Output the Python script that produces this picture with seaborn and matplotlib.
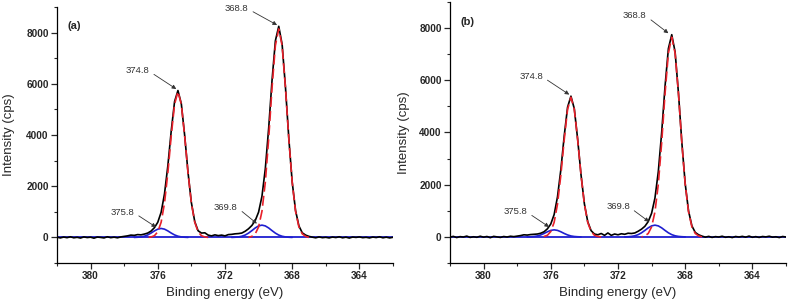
import numpy as np
import matplotlib
matplotlib.use('Agg')
import matplotlib.pyplot as plt
import seaborn as sns
from matplotlib.ticker import MultipleLocator

# binding energy grid of the measured spectra (eV), high -> low
energy = np.round(np.linspace(382, 362, 101), 1)

# measured spectra (cps)
spec_a = [10, -20, 15, -10, 25, -15, 5, -25, 20, -5, 10,
          -30, 15, 0, -20, 25, -10, 10, -15, 20, 40,
          60, 90, 80, 110, 100, 130, 170, 247, 381, 592,
          983, 1703, 2800, 4160, 5310, 5740, 5230, 3990, 2540, 1360,
          620, 260, 170, 180, 90, 60, 100, 70, 90, 60,
          110, 120, 140, 150, 170, 240, 337, 466, 658, 989,
          1605, 2681, 4266, 6138, 7685, 8250, 7550, 5870, 3860, 2170,
          1050, 450, 180, 90, 40, 10, -15, 20, -10, 5,
          -20, 15, -5, 25, -15, 10, -25, 15, 0, 20,
          -10, 5, -20, 15, -5, 25, -15, 10, -20, 5]
spec_b = [-10, 20, -25, 10, -5, 30, -20, 5, -15, 25, -10,
          15, -30, 20, 0, -20, 15, -5, 25, 10, 30,
          50, 80, 70, 90, 100, 110, 140, 197, 309, 494,
          856, 1536, 2580, 3870, 4970, 5390, 4910, 3740, 2380, 1270,
          580, 240, 110, 80, 130, 60, 150, 60, 110, 80,
          120, 100, 140, 130, 150, 216, 296, 406, 586, 904,
          1486, 2501, 3997, 5763, 7214, 7746, 7080, 5500, 3620, 2040,
          990, 420, 170, 80, 30, -10, 20, -20, 10, -5,
          25, -15, 5, -25, 15, -5, 20, -10, 30, -15,
          10, -20, 15, 0, 25, -10, 5, -25, 15, -5]

# fitted components
x_main_1 = np.round(np.linspace(376.6, 373.0, 19), 1)   # 374.8 peak
x_main_2 = np.round(np.linspace(370.6, 367.0, 19), 1)   # 368.8 peak
x_minor_1 = np.round(np.linspace(377.4, 374.2, 17), 1)  # 375.8 peak
x_minor_2 = np.round(np.linspace(371.6, 368.0, 19), 1)  # 369.8 peak

fit_a_main_1 = [0, 17, 67, 219, 593, 1340, 2525, 3967, 5205, 5700, 5205, 3967, 2525, 1340, 593, 219, 67, 17, 0]
fit_a_main_2 = [0, 41, 139, 408, 1019, 2152, 3847, 5843, 7498, 8150, 7498, 5843, 3847, 2152, 1019, 408, 139, 41, 0]
fit_a_minor_1 = [0, 7, 20, 47, 97, 170, 254, 323, 350, 323, 254, 170, 97, 47, 20, 7, 0]
fit_a_minor_2 = [0, 7, 19, 45, 92, 167, 265, 369, 449, 480, 449, 369, 265, 167, 92, 45, 19, 7, 0]

fit_b_main_1 = [0, 16, 63, 205, 556, 1257, 2370, 3724, 4885, 5350, 4885, 3724, 2370, 1257, 556, 205, 63, 16, 0]
fit_b_main_2 = [0, 38, 130, 383, 956, 2020, 3611, 5485, 7038, 7650, 7038, 5485, 3611, 2020, 956, 383, 130, 38, 0]
fit_b_minor_1 = [0, 5, 15, 36, 75, 131, 196, 249, 270, 249, 196, 131, 75, 36, 15, 5, 0]
fit_b_minor_2 = [0, 7, 18, 42, 86, 156, 248, 346, 421, 450, 421, 346, 248, 156, 86, 42, 18, 7, 0]

baseline_level = 0
peak_labels = ['368.8', '374.8', '375.8', '369.8']
panel_labels = ['(a)', '(b)']

# text position / arrow head for each peak label, per panel (data coords)
label_pos_a = [((371.3, 8950), (368.9, 8300)), ((377.2, 6520), (374.9, 5800)),
               ((378.1, 990), (376.1, 400)), ((371.95, 1185), (370.1, 540))]
label_pos_b = [((371.0, 8475), (369.0, 7800)), ((377.17, 6150), (374.9, 5450)),
               ((378.1, 970), (376.1, 380)), ((372.0, 1160), (370.15, 580))]

sns.set_style('ticks')
plt.rcParams['font.family'] = ['Liberation Sans', 'DejaVu Sans']

fig = plt.figure(figsize=(7.89, 3.05), dpi=100)
ax_a = fig.add_axes([0.0722, 0.1377, 0.4259, 0.839])
ax_b = fig.add_axes([0.5703, 0.1377, 0.4259, 0.856])

panels = [
    (ax_a, spec_a, [fit_a_main_1, fit_a_main_2], [fit_a_minor_1, fit_a_minor_2], label_pos_a, panel_labels[0], -0.125),
    (ax_b, spec_b, [fit_b_main_1, fit_b_main_2], [fit_b_minor_1, fit_b_minor_2], label_pos_b, panel_labels[1], -0.119),
]

for ax, spec, mains, minors, lpos, plabel, ylab_x in panels:
    sns.lineplot(x=energy, y=np.full(len(energy), baseline_level), ax=ax,
                 color='#1f1fd0', lw=1.3, zorder=2, estimator=None)
    for xs, ys in zip([x_minor_1, x_minor_2], minors):
        sns.lineplot(x=xs, y=ys, ax=ax, color='#1f1fd0', lw=1.2, zorder=2, estimator=None)
    sns.lineplot(x=energy, y=spec, ax=ax, color='black', lw=1.2, zorder=3, estimator=None)
    for xs, ys in zip([x_main_1, x_main_2], mains):
        sns.lineplot(x=xs, y=ys, ax=ax, color='#e8202a', lw=1.2, zorder=4,
                     estimator=None, dashes=False)
        ax.lines[-1].set_dashes((6, 2.5))

    for lab, (txt, head) in zip(peak_labels, lpos):
        ax.annotate(lab, xy=head, xytext=txt, ha='center', va='center',
                    fontsize=6.8, color='#333333',
                    arrowprops=dict(arrowstyle='-|>', color='#333333', lw=0.6,
                                    mutation_scale=6, shrinkA=1, shrinkB=0,
                                    relpos=(1.0, 0.4)))

    ax.text(0.03, 0.925, plabel, transform=ax.transAxes, fontsize=8,
            fontweight='bold', ha='left', va='center')

    ax.set_xlim(382, 362)
    ax.set_ylim(-1000, 9000)
    ax.set_xticks([380, 376, 372, 368, 364])
    ax.xaxis.set_minor_locator(MultipleLocator(2))
    ax.set_yticks([0, 2000, 4000, 6000, 8000])
    ax.yaxis.set_minor_locator(MultipleLocator(1000))
    ax.tick_params(which='major', direction='out', length=4, width=0.9, labelsize=7.2, pad=2)
    ax.tick_params(which='minor', direction='out', length=2.5, width=0.8)
    for t in ax.get_xticklabels() + ax.get_yticklabels():
        t.set_fontweight('bold')
    sns.despine(ax=ax)
    for s in ['left', 'bottom']:
        ax.spines[s].set_linewidth(0.9)
        ax.spines[s].set_color('black')

    ax.set_xlabel('Binding energy (eV)', fontsize=9.5)
    ax.set_ylabel('Intensity (cps)', fontsize=9.5)
    ax.xaxis.set_label_coords(0.5, -0.092)
    ax.yaxis.set_label_coords(ylab_x, 0.5)

fig.savefig('out.png', dpi=100)
